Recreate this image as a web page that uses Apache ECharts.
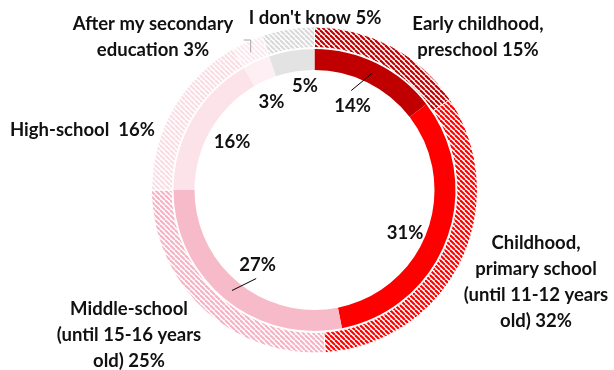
<!DOCTYPE html>
<html>
<head>
<meta charset="utf-8">
<script src="https://cdn.jsdelivr.net/npm/echarts@6/dist/echarts.min.js"></script>
<style>
  html, body { margin: 0; padding: 0; background: #fff; }
  #chart { width: 614px; height: 370px; }
</style>
</head>
<body>
<div id="chart"></div>
<script>
// Stage categories (outer labels are split into display lines)
const categoryLines = [
  ['Early childhood,', 'preschool'],
  ['Childhood,', 'primary school', '(until 11-12 years', 'old)'],
  ['Middle-school', '(until 15-16 years', 'old)'],
  ['High-school '],
  ['After my secondary', 'education'],
  ["I don't know"]
];
// Inner ring (solid) and outer ring (hatched) shares, in %
const innerValues = [14, 31, 27, 16, 3, 5];
const outerValues = [15, 32, 25, 16, 3, 5];

// Colours per stage
const sliceColors = ['#C00000', '#FF0000', '#F7BAC8', '#FCE3EA', '#FDEFF3', '#E3E3E3'];
const hatchColors = ['#C00000', '#FF0000', '#F5B3C3', '#FADCE4', '#FBE9EE', '#D9D9D9'];

// Chart geometry
const CX = 314.5, CY = 190;
const FONT = 'Lato, "Open Sans", sans-serif';
const FONT_SIZE = 18.5;

// Label anchor points: [x, y, align]
const outerLabelPos = [
  [478, 37, 'center'],
  [536, 282, 'center'],
  [129, 335, 'center'],
  [10, 130, 'left'],
  [153, 37.5, 'center'],
  [315, 18, 'center']
];
const innerLabelPos = [
  [352.5, 106], [405, 233], [257.5, 265], [232, 142], [271.5, 102], [305, 86.5]
];

// Diagonal stripe pattern on white
function hatch(color) {
  const s = 5;
  const c = document.createElement('canvas');
  c.width = s; c.height = s;
  const g = c.getContext('2d');
  g.fillStyle = '#fff';
  g.fillRect(0, 0, s, s);
  g.strokeStyle = color;
  g.lineWidth = 2.1;
  for (let k = -1; k <= 1; k++) {
    g.beginPath();
    g.moveTo(k * s, 0);
    g.lineTo(k * s + s, s);
    g.stroke();
  }
  return { image: c, repeat: 'repeat' };
}

// Clockwise angle (deg, from 12 o'clock) of a slice's middle
function midAngle(values, i) {
  const total = values.reduce((a, b) => a + b, 0);
  let before = 0;
  for (let k = 0; k < i; k++) before += values[k];
  return (before + values[i] / 2) / total * 360;
}
function polar(deg, r) {
  const a = deg * Math.PI / 180;
  return [CX + r * Math.sin(a), CY - r * Math.cos(a)];
}

const innerData = innerValues.map((v, i) => ({
  value: v,
  name: categoryLines[i].join(' '),
  itemStyle: { color: sliceColors[i] }
}));
const outerData = outerValues.map((v, i) => ({
  value: v,
  name: categoryLines[i].join(' '),
  itemStyle: { color: hatch(hatchColors[i]) }
}));

// Leader lines for the two inner labels set away from their slices
const leaderLines = [0, 2].map(i => {
  const m = midAngle(innerValues, i);
  const p1 = polar(m, 130), p2 = polar(m - 6, 106);
  return {
    type: 'line',
    shape: { x1: p1[0], y1: p1[1], x2: p2[0], y2: p2[1] },
    style: { stroke: '#000', lineWidth: 1 },
    z: 10
  };
});
// Small bracket for the narrow "after secondary" slice
const mAfter = midAngle(outerValues, 4);
const pA = polar(mAfter, 151);
const bracket = {
  type: 'polyline',
  shape: { points: [[pA[0] - 1.5, pA[1]], [pA[0] - 1.5, 40], [pA[0] - 8.5, 40]] },
  style: { stroke: '#A6A6A6', lineWidth: 1, fill: null },
  z: 10
};

const chart = echarts.init(document.getElementById('chart'), null, { renderer: 'canvas' });
chart.setOption({
  animation: false,
  backgroundColor: '#fff',
  graphic: leaderLines.concat([bracket]),
  series: [
    {
      type: 'pie',
      center: [CX, CY],
      radius: [120, 141],
      startAngle: 90,
      clockwise: true,
      avoidLabelOverlap: false,
      data: innerData,
      itemStyle: { borderWidth: 0 },
      label: {
        show: true,
        formatter: p => innerValues[p.dataIndex] + '%',
        fontFamily: FONT,
        fontWeight: 'bold',
        fontSize: FONT_SIZE,
        color: '#111'
      },
      labelLine: { show: false },
      labelLayout: p => {
        const q = innerLabelPos[p.dataIndex];
        return { x: q[0], y: q[1], align: 'center', verticalAlign: 'middle' };
      }
    },
    {
      type: 'pie',
      center: [CX, CY],
      radius: [142.5, 163],
      startAngle: 90,
      clockwise: true,
      avoidLabelOverlap: false,
      data: outerData,
      itemStyle: { borderColor: '#fff', borderWidth: 1 },
      label: {
        show: true,
        formatter: p => {
          const lines = categoryLines[p.dataIndex].slice();
          lines[lines.length - 1] += ' ' + outerValues[p.dataIndex] + '%';
          return lines.join('\n');
        },
        fontFamily: FONT,
        fontWeight: 'bold',
        fontSize: FONT_SIZE,
        lineHeight: 26,
        color: '#111'
      },
      labelLine: { show: false },
      labelLayout: p => {
        const q = outerLabelPos[p.dataIndex];
        return { x: q[0], y: q[1], align: q[2], verticalAlign: 'middle' };
      }
    }
  ]
});
</script>
</body>
</html>
